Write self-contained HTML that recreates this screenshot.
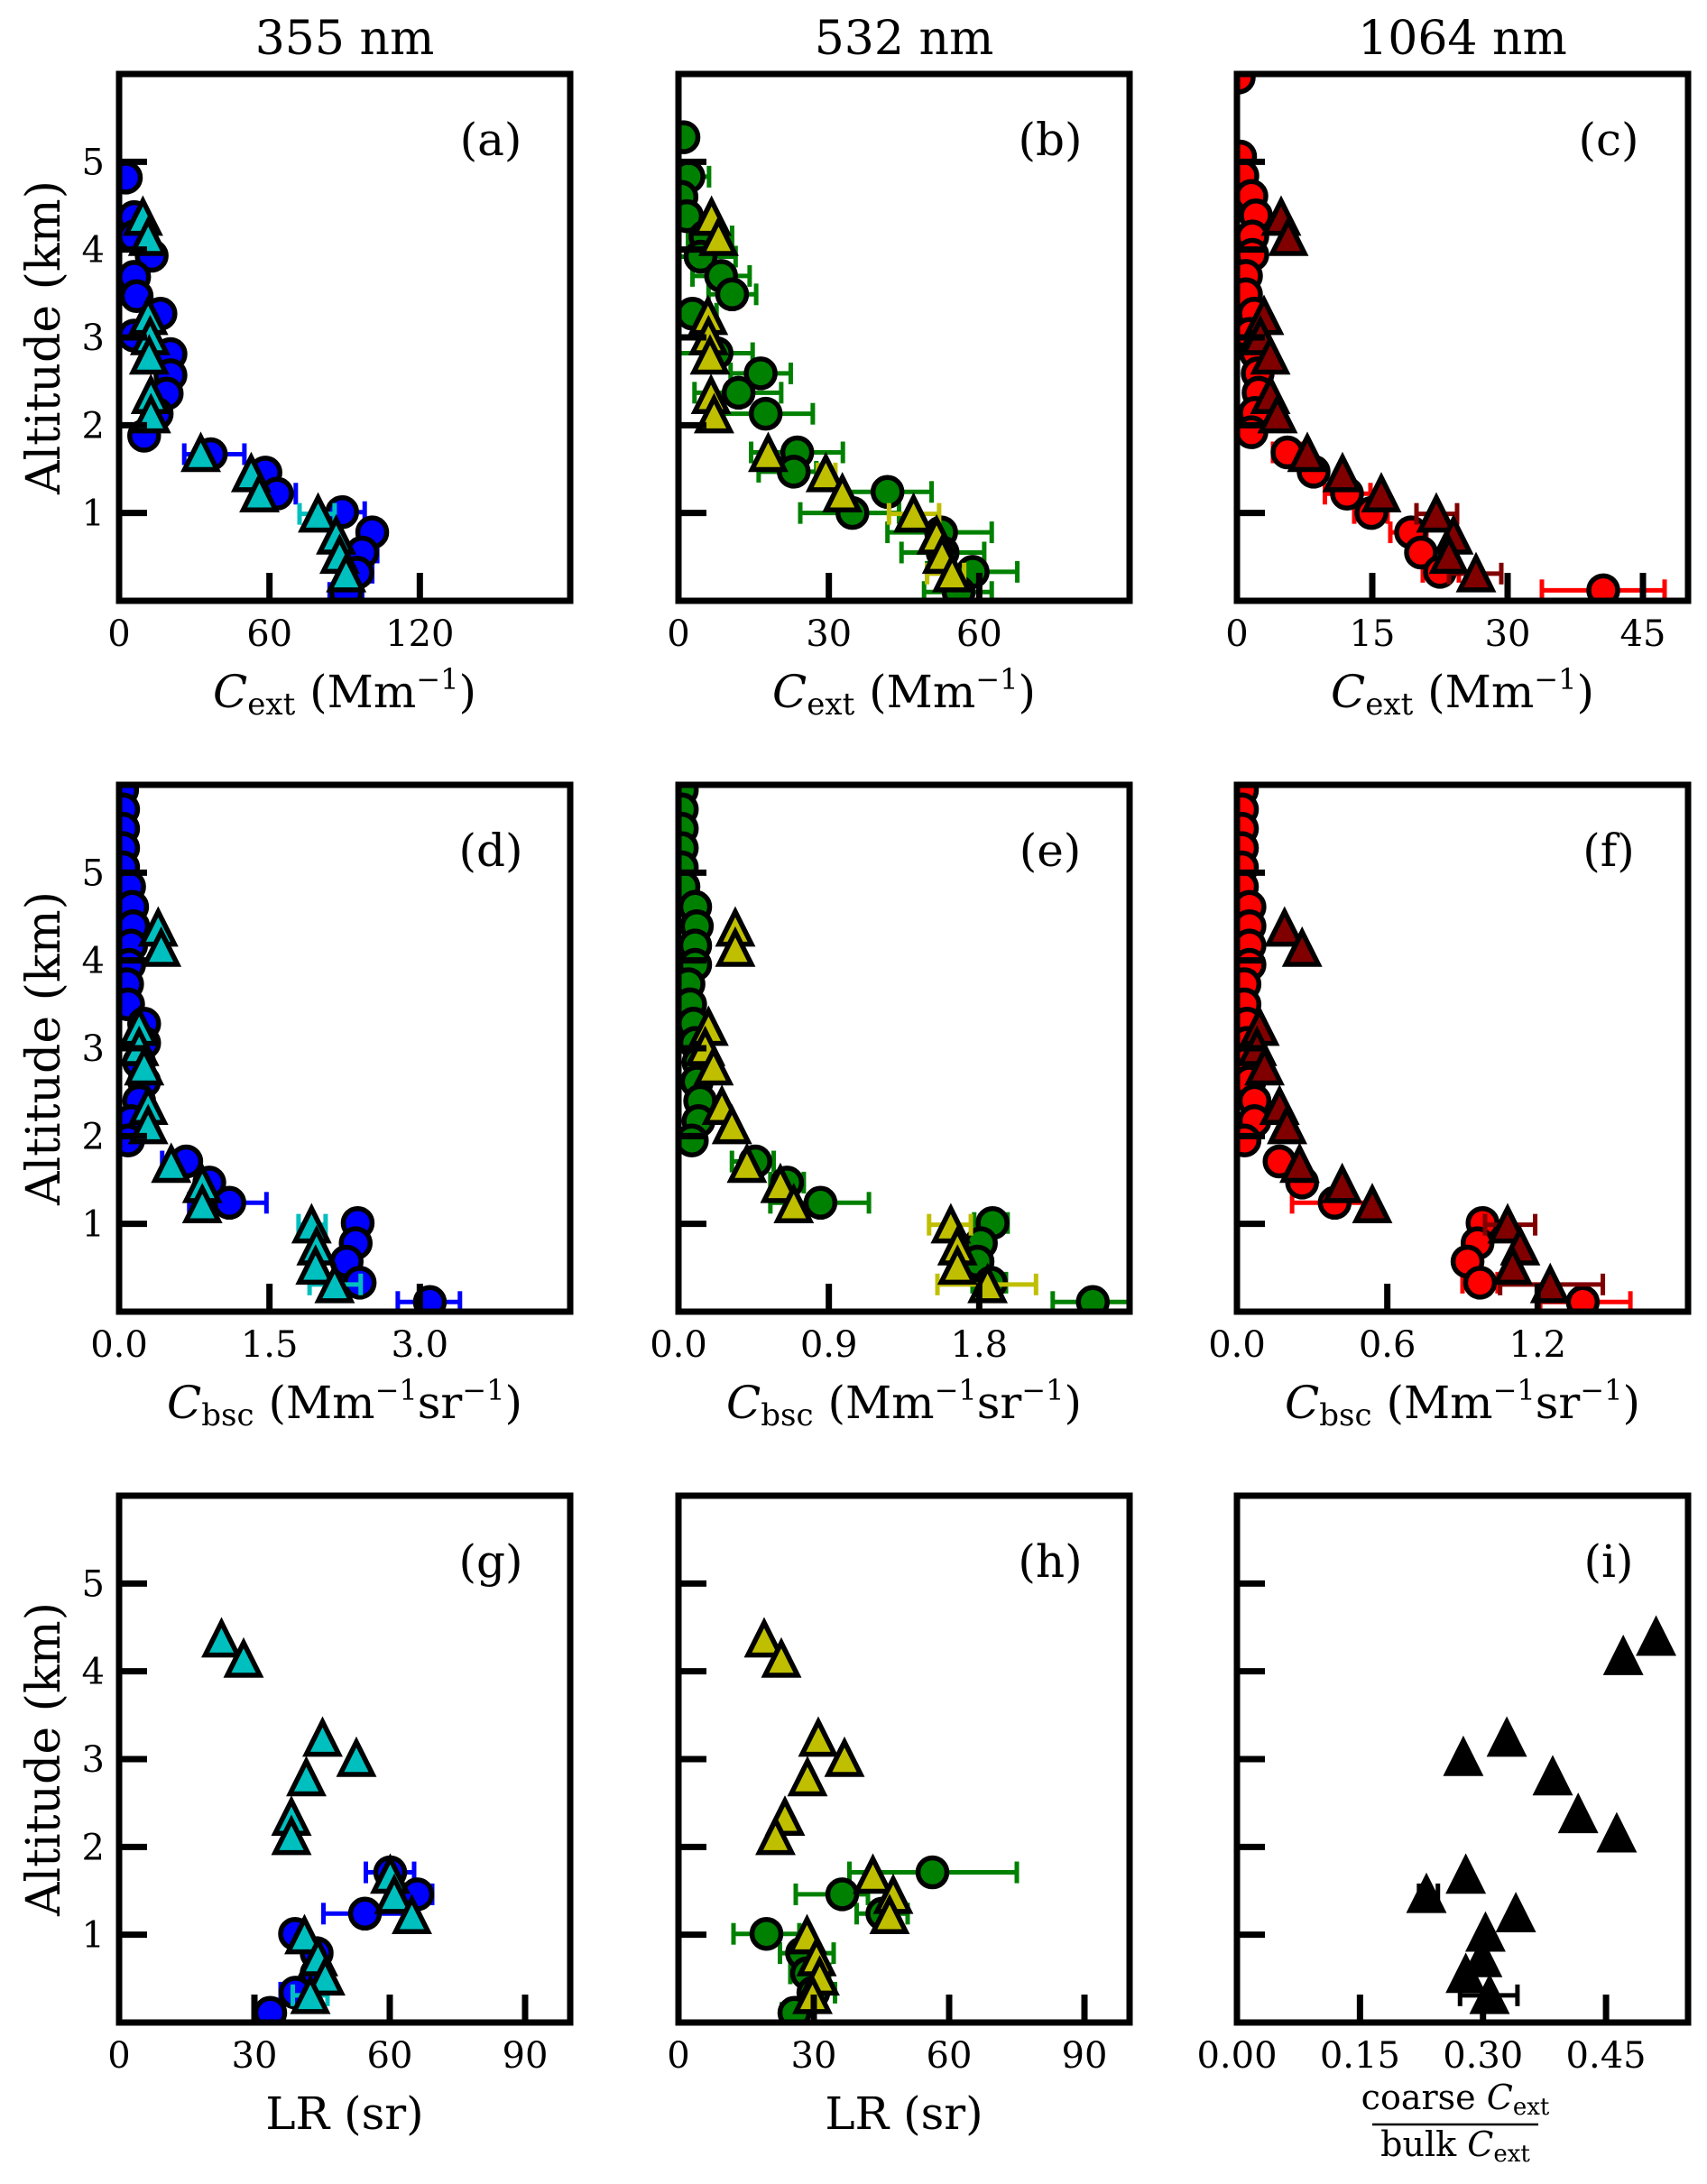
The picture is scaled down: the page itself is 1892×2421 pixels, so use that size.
<!DOCTYPE html>
<html><head><meta charset="utf-8"><style>
html,body{margin:0;padding:0;background:#fff;}
svg{display:block;font-family:"DejaVu Serif","Liberation Serif",serif;}
</style></head>
<body>
<svg id="fig" xmlns="http://www.w3.org/2000/svg" width="1892" height="2421" viewBox="0 0 1892 2421">
<rect x="0" y="0" width="1892" height="2421" fill="#fff"/>
<text x="382" y="60" font-size="52" text-anchor="middle">355 nm</text>
<text x="1002" y="60" font-size="52" text-anchor="middle">532 nm</text>
<text x="1621" y="60" font-size="52" text-anchor="middle">1064 nm</text>
</svg>
<script>
// ---- shared altitudes (km) ----
const triAlt = [4.37,4.14,3.24,3.01,2.79,2.34,2.12,1.68,1.45,1.22,0.99,0.74,0.52,0.31];
const profAlt = [5.94,5.72,5.50,5.28,5.06,4.84,4.61,4.39,4.17,3.95,3.73,3.50,3.28,3.06,2.84,2.62,2.40,2.17,1.95,1.71,1.47,1.24,1.01,0.78,0.57,0.33,0.11];
const lrAlt = [1.71,1.46,1.24,1.01,0.79,0.56,0.34,0.11];
const yTicks = [1,2,3,4,5];
// ---- panel (a) ----
const aCircAlt = [4.82,4.37,4.15,3.93,3.69,3.47,3.27,3.02,2.81,2.57,2.36,2.13,1.88,1.67,1.46,1.22,1.01,0.78,0.55,0.32,0.09];
const aCircX = [2.7,6,6,13,6,7,16.5,6,20.5,20.5,19,15,10,36.6,58.4,63,89,101,97,95,90.6];
const aCircLo = [null,null,null,null,null,null,null,null,null,null,null,null,null,26,null,56,80,null,91,88,84];
const aCircHi = [null,null,null,null,null,null,null,null,null,null,null,null,null,50,null,70.5,98,null,103,101,97];
const aTriX = [9.5,11.6,11.6,12.4,12,12.7,12.7,32.6,52.7,56,79.4,86.6,88,90.6];
const aTriLo = [null,null,null,null,null,null,null,null,null,null,72,null,null,null];
const aTriHi = [null,null,null,null,null,null,null,null,null,null,86,null,null,null];
const aTickLabels = ["0","60","120"];
// ---- panel (b) ----
const bCircAlt = [5.28,4.83,4.60,4.38,4.15,3.92,3.70,3.49,3.27,2.82,2.59,2.37,2.13,1.69,1.47,1.24,1.00,0.78,0.55,0.33,0.10];
const bCircX = [1.0,2.0,0.6,1.7,5.4,4.4,8.5,10.7,2.8,7.6,16.4,12.0,17.4,23.7,23.0,41.7,34.7,52.4,52.7,58.7,55.9];
const bCircLo = [null,0,null,null,1.9,0,2.8,6,0,0,10.4,3.2,7.3,14.5,16,33,24.3,41.7,44.5,49.6,49];
const bCircHi = [null,6.1,null,null,10.7,11.4,14.2,15.5,7.6,14.8,22.4,20.5,26.8,32.8,27.5,50.5,44,62.5,61,67.6,62.5];
const bTriX = [6.6,8,5.9,6,6.3,6.5,7.1,17.9,29.4,32.7,46.9,51.5,52.6,54.6];
const bTriLo = [null,null,null,null,null,null,null,null,27.8,null,42,null,null,49.6];
const bTriHi = [null,null,null,null,null,null,null,null,31.3,null,52,null,null,57];
const bTickLabels = ["0","30","60"];
// ---- panel (c) ----
const cCircAlt = [5.96,5.06,4.84,4.61,4.39,4.15,3.94,3.70,3.49,3.27,3.04,2.82,2.59,2.37,2.14,1.92,1.69,1.47,1.22,1.00,0.78,0.55,0.33,0.12];
const cCircX = [0.2,0.35,0.6,1.6,2.1,1.7,1.7,1.0,1.0,1.9,1.4,2.1,2.3,2.4,2.0,1.6,5.6,8.5,12.2,14.9,19.3,20.4,22.5,40.6];
const cCircLo = [null,null,null,null,null,null,null,null,null,null,null,null,null,null,null,null,4,null,9.75,13,17,null,20.6,33.8];
const cCircHi = [null,null,null,null,null,null,null,null,null,null,null,null,null,null,null,null,7.1,null,14.8,16.7,21,null,24.6,47.4];
const cTriX = [4.9,5.7,3,2.6,3.7,3.7,4.5,7.8,11.7,16,22.1,24,23.5,26.5];
const cTriLo = [null,null,null,null,null,null,null,null,null,null,19.9,null,null,23.5];
const cTriHi = [null,null,null,null,null,null,null,null,null,null,24.4,null,null,29.3];
const cTickLabels = ["0","15","30","45"];
// ---- panel (d) ----
const dCircX = [0.03,0.04,0.04,0.04,0.04,0.1,0.13,0.14,0.12,0.1,0.08,0.09,0.25,0.25,0.2,0.25,0.2,0.12,0.09,0.67,0.9,1.1,2.38,2.36,2.27,2.4,3.1];
const dCircLo = [null,null,null,null,null,null,null,null,null,null,null,null,null,null,null,null,null,null,null,0.43,null,0.7,null,null,null,2.25,2.78];
const dCircHi = [null,null,null,null,null,null,null,null,null,null,null,null,null,null,null,null,null,null,null,0.78,null,1.47,null,null,null,2.45,3.4];
const dTriX = [0.39,0.42,0.2,0.2,0.25,0.29,0.29,0.52,0.83,0.83,1.92,1.97,1.96,2.15];
const dTriLo = [null,null,null,null,null,null,null,null,null,null,1.79,null,null,1.9];
const dTriHi = [null,null,null,null,null,null,null,null,null,null,2.06,null,null,2.41];
const dTickLabels = ["0.0","1.5","3.0"];
// ---- panel (e) ----
const eCircX = [0.02,0.02,0.02,0.02,0.02,0.03,0.1,0.11,0.1,0.1,0.06,0.07,0.09,0.1,0.12,0.11,0.13,0.12,0.08,0.46,0.65,0.85,1.88,1.81,1.79,1.87,2.48];
const eCircLo = [null,null,null,null,null,null,null,null,null,null,null,null,null,null,null,null,null,null,null,0.32,0.55,0.55,1.77,null,null,1.76,2.24];
const eCircHi = [null,null,null,null,null,null,null,null,null,null,null,null,null,null,null,null,null,null,null,0.57,0.75,1.14,1.97,null,null,1.96,2.72];
const eTriX = [0.34,0.34,0.18,0.16,0.21,0.26,0.32,0.41,0.61,0.69,1.63,1.67,1.67,1.85];
const eTriLo = [null,null,null,null,null,null,null,null,null,null,1.5,null,null,1.55];
const eTriHi = [null,null,null,null,null,null,null,null,null,null,1.75,null,null,2.14];
const eTickLabels = ["0.0","0.9","1.8"];
// ---- panel (f) ----
const fCircX = [0.02,0.02,0.02,0.02,0.02,0.02,0.05,0.05,0.05,0.05,0.03,0.03,0.04,0.04,0.04,0.05,0.07,0.07,0.03,0.17,0.26,0.39,0.98,0.96,0.92,0.97,1.38];
const fCircLo = [null,null,null,null,null,null,null,null,null,null,null,null,null,null,null,null,null,null,null,null,null,0.22,null,null,null,0.9,1.21];
const fCircHi = [null,null,null,null,null,null,null,null,null,null,null,null,null,null,null,null,null,null,null,null,null,0.55,null,null,null,1.04,1.57];
const fTriX = [0.19,0.26,0.09,0.08,0.11,0.17,0.2,0.25,0.42,0.54,1.08,1.13,1.10,1.25];
const fTriLo = [null,null,null,null,null,null,null,null,null,null,0.99,null,null,1.05];
const fTriHi = [null,null,null,null,null,null,null,null,null,null,1.19,null,null,1.46];
const fTickLabels = ["0.0","0.6","1.2"];
// ---- panel (g) ----
const gCircX = [60.1,66.1,54.5,39,43.8,43.8,39.1,33.5];
const gCircLo = [54.7,62,45.3,null,null,null,35.8,null];
const gCircHi = [65.4,69.4,63.5,null,null,null,42,null];
const gTriX = [22.7,27.6,45.1,52.6,41.5,38.2,38.2,60.1,61,64.9,41.1,44.1,45.7,42.4];
const gTriLo = [null,null,null,null,null,null,null,null,null,null,null,null,null,38.5];
const gTriHi = [null,null,null,null,null,null,null,null,null,null,null,null,null,46.2];
const lrTickLabels = ["0","30","60","90"];
// ---- panel (h) ----
const hCircX = [56.3,36.3,45.2,19.5,27.4,28.5,29.9,25.7];
const hCircLo = [37.9,26,39.5,12.2,22.5,24.8,26.9,22.9];
const hCircHi = [75,42,50.8,26.8,34.4,33.4,34.7,28.5];
const hTriX = [19,22.8,31,36.8,28.6,23.6,21.5,43.1,47.6,46.8,28.5,30.6,31.3,29.7];
// ---- panel (i) ----
const iAlt = [4.39,4.17,3.24,3.02,2.80,2.37,2.15,1.68,1.46,1.24,1.02,0.73,0.55,0.31];
const iRatio = [0.511,0.471,0.329,0.276,0.385,0.416,0.463,0.279,0.231,0.340,0.303,0.299,0.279,0.308];
const iLo = [null,null,null,null,null,null,null,null,0.222,null,null,null,null,0.272];
const iHi = [null,null,null,null,null,null,null,null,0.245,null,null,null,null,0.342];
const iTickLabels = ["0.00","0.15","0.30","0.45"];

const NS = "http://www.w3.org/2000/svg";
const svg = document.getElementById("fig");
const COLS = [132,752,1371], ROWS = [82,870,1658], PW = 500, PH = 584;
const BLUE="#0000ff", CYAN="#00bfbf", GREEN="#008000", YEL="#bfbf00", RED="#ff0000", DRED="#800000";

function mk(tag, attrs, parent){
  const e = document.createElementNS(NS, tag);
  for (const k in attrs) e.setAttribute(k, attrs[k]);
  (parent||svg).appendChild(e);
  return e;
}

function drawPanel(id, col, row, xmax, tickLabels, series, letter){
  const L = COLS[col], T = ROWS[row], R = L+PW, B = T+PH;
  const g = mk("g", {});
  
  
  const sx = v => L + v/xmax*PW;
  const sy = v => B - v/6*PH;
  const cp = mk("clipPath", {id:"clip-"+id}, g);
  mk("rect", {x:L, y:T, width:PW, height:PH}, cp);
  const plot = mk("g", {"clip-path":"url(#clip-"+id+")"}, g);
  
  
  series.forEach(s => {
    for (let i=0;i<s.x.length;i++){
      if (s.lo && s.lo[i]!=null){
        const y = sy(s.alt[i]);
        const eb = mk("g", {stroke:s.ecol, "stroke-width":5, fill:"none"}, plot);
        
        
        mk("line", {x1:sx(s.lo[i]), x2:sx(s.hi[i]), y1:y, y2:y}, eb);
        mk("line", {x1:sx(s.lo[i]), x2:sx(s.lo[i]), y1:y-12, y2:y+12}, eb);
        mk("line", {x1:sx(s.hi[i]), x2:sx(s.hi[i]), y1:y-12, y2:y+12}, eb);
      }
    }
    for (let i=0;i<s.x.length;i++){
      const cx = sx(s.x[i]), cy = sy(s.alt[i]);
      let m;
      if (s.shape==="c"){
        m = mk("circle", {cx:cx, cy:cy, r:16, fill:s.fill, stroke:"#000", "stroke-width":5.5}, plot);
        
      } else {
        const h = 18;
        m = mk("polygon", {points:`${cx},${cy-h} ${cx-h},${cy+h} ${cx+h},${cy+h}`, fill:s.fill, stroke:"#000", "stroke-width":5.5, "stroke-linejoin":"miter"}, plot);
        
      }
      
    }
  });
  const fr = mk("rect", {x:L, y:T, width:PW, height:PH, fill:"none", stroke:"#000", "stroke-width":7}, g);
  
  
  yTicks.forEach(v => {
    const y = sy(v);
    const t = mk("line", {x1:L, x2:L+31, y1:y, y2:y, stroke:"#000", "stroke-width":7}, g);
    
    
    if (col===0){
      const tl = mk("text", {x:L-16, y:y+14, "font-size":40, "text-anchor":"end"}, g);
      
      
      tl.textContent = String(v);
    }
  });
  tickLabels.forEach(lbl => {
    const v = parseFloat(lbl), x = sx(v);
    if (v>0){
      const t = mk("line", {x1:x, x2:x, y1:B, y2:B-31, stroke:"#000", "stroke-width":7}, g);
      
      
    }
    const tl = mk("text", {x:x, y:B+50, "font-size":40, "text-anchor":"middle"}, g);
    
    
    tl.textContent = lbl;
  });
  const lt = mk("text", {x:R-88, y:T+90, "font-size":50, "text-anchor":"middle"}, g);
  
  
  lt.textContent = "(" + letter + ")";
  if (col===0){
    const yl = mk("text", {x:0, y:0, "font-size":52, "text-anchor":"middle", transform:`translate(66,${(T+B)/2}) rotate(-90)`}, g);
    
    
    yl.textContent = "Altitude (km)";
  }
  return {L:L, R:R, B:B, cx:(L+R)/2};
}

function xLabel(p, kind){
  const t = mk("text", {x:p.cx, y:p.B+118, "font-size":50, "text-anchor":"middle"});
  
  
  if (kind==="ext"){
    t.innerHTML = '<tspan font-style="italic">C</tspan><tspan font-size="34" dy="8">ext</tspan><tspan dy="-8"> (Mm</tspan><tspan font-size="32" dy="-20">−1</tspan><tspan dy="20">)</tspan>';
  } else if (kind==="bsc"){
    t.innerHTML = '<tspan font-style="italic">C</tspan><tspan font-size="34" dy="8">bsc</tspan><tspan dy="-8"> (Mm</tspan><tspan font-size="32" dy="-20">−1</tspan><tspan dy="20">sr</tspan><tspan font-size="32" dy="-20">−1</tspan><tspan dy="20">)</tspan>';
  } else {
    t.textContent = "LR (sr)";
  }
}

const pa = drawPanel("a",0,0,180,aTickLabels,[
  {alt:aCircAlt,x:aCircX,lo:aCircLo,hi:aCircHi,shape:"c",fill:BLUE,ecol:BLUE},
  {alt:triAlt,x:aTriX,lo:aTriLo,hi:aTriHi,shape:"t",fill:CYAN,ecol:CYAN}],"a");
const pb = drawPanel("b",1,0,90,bTickLabels,[
  {alt:bCircAlt,x:bCircX,lo:bCircLo,hi:bCircHi,shape:"c",fill:GREEN,ecol:GREEN},
  {alt:triAlt,x:bTriX,lo:bTriLo,hi:bTriHi,shape:"t",fill:YEL,ecol:YEL}],"b");
const pc = drawPanel("c",2,0,50,cTickLabels,[
  {alt:cCircAlt,x:cCircX,lo:cCircLo,hi:cCircHi,shape:"c",fill:RED,ecol:RED},
  {alt:triAlt,x:cTriX,lo:cTriLo,hi:cTriHi,shape:"t",fill:DRED,ecol:DRED}],"c");
const pd = drawPanel("d",0,1,4.5,dTickLabels,[
  {alt:profAlt,x:dCircX,lo:dCircLo,hi:dCircHi,shape:"c",fill:BLUE,ecol:BLUE},
  {alt:triAlt,x:dTriX,lo:dTriLo,hi:dTriHi,shape:"t",fill:CYAN,ecol:CYAN}],"d");
const pe = drawPanel("e",1,1,2.7,eTickLabels,[
  {alt:profAlt,x:eCircX,lo:eCircLo,hi:eCircHi,shape:"c",fill:GREEN,ecol:GREEN},
  {alt:triAlt,x:eTriX,lo:eTriLo,hi:eTriHi,shape:"t",fill:YEL,ecol:YEL}],"e");
const pf = drawPanel("f",2,1,1.8,fTickLabels,[
  {alt:profAlt,x:fCircX,lo:fCircLo,hi:fCircHi,shape:"c",fill:RED,ecol:RED},
  {alt:triAlt,x:fTriX,lo:fTriLo,hi:fTriHi,shape:"t",fill:DRED,ecol:DRED}],"f");
const pg = drawPanel("g",0,2,100,lrTickLabels,[
  {alt:lrAlt,x:gCircX,lo:gCircLo,hi:gCircHi,shape:"c",fill:BLUE,ecol:BLUE},
  {alt:triAlt,x:gTriX,lo:gTriLo,hi:gTriHi,shape:"t",fill:CYAN,ecol:CYAN}],"g");
const ph = drawPanel("h",1,2,100,lrTickLabels,[
  {alt:lrAlt,x:hCircX,lo:hCircLo,hi:hCircHi,shape:"c",fill:GREEN,ecol:GREEN},
  {alt:triAlt,x:hTriX,lo:null,hi:null,shape:"t",fill:YEL,ecol:YEL}],"h");
const pi = drawPanel("i",2,2,0.55,iTickLabels,[
  {alt:iAlt,x:iRatio,lo:iLo,hi:iHi,shape:"t",fill:"#000",ecol:"#000"}],"i");

xLabel(pa,"ext"); xLabel(pb,"ext"); xLabel(pc,"ext");
xLabel(pd,"bsc"); xLabel(pe,"bsc"); xLabel(pf,"bsc");
xLabel(pg,"lr"); xLabel(ph,"lr");

const fg = mk("g", {});


const num = mk("text", {x:pi.cx-8, y:2338, "font-size":38, "text-anchor":"middle"}, fg);


num.innerHTML = 'coarse <tspan font-style="italic">C</tspan><tspan font-size="26" dy="6">ext</tspan>';
const bar = mk("line", {x1:pi.cx-100, x2:pi.cx+84, y1:2355, y2:2355, stroke:"#000", "stroke-width":2.5}, fg);


const den = mk("text", {x:pi.cx-8, y:2390, "font-size":38, "text-anchor":"middle"}, fg);


den.innerHTML = 'bulk <tspan font-style="italic">C</tspan><tspan font-size="26" dy="6">ext</tspan>';
</script>
</body></html>
